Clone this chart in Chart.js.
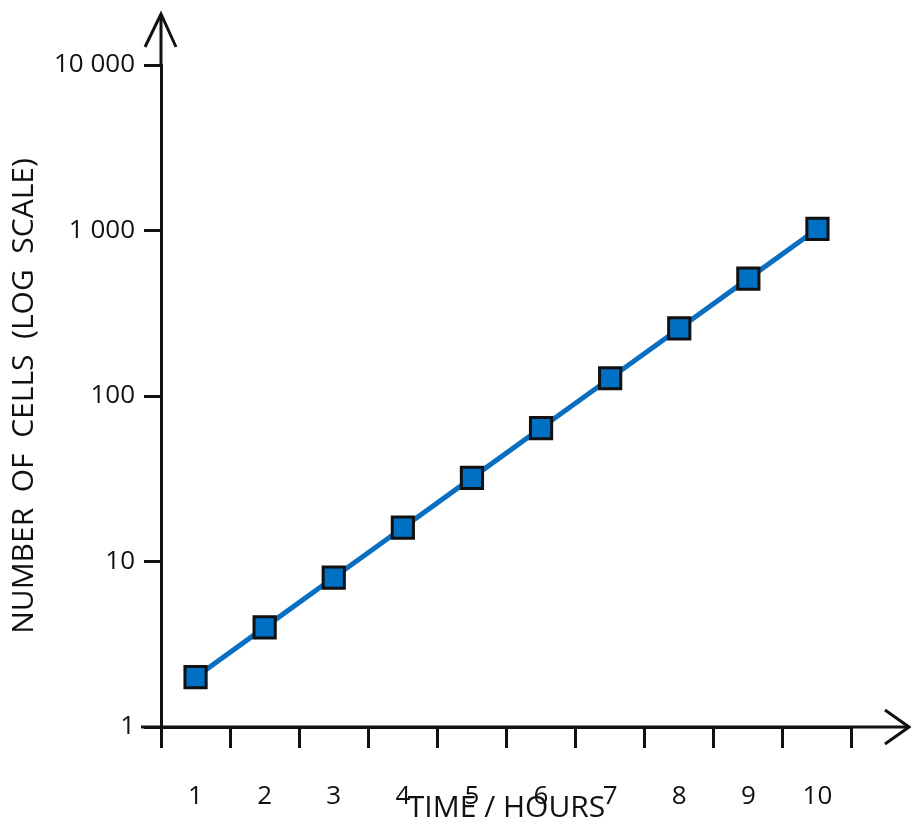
<!DOCTYPE html>
<html>
<head>
    <title>Cell growth</title>
    <script src="https://cdn.jsdelivr.net/npm/chart.js"></script>
    <style>
        html, body { margin: 0; padding: 0; background: #fff; }
        #wrap { width: 911px; height: 819px; }
    </style>
</head>
<body>
    <div id="wrap"><canvas id="myChart" width="911" height="819"></canvas></div>
    <script>
        // hours on the x axis
        var hours = ['1', '2', '3', '4', '5', '6', '7', '8', '9', '10'];
        // number of cells at each hour
        var cells = [2, 4, 8, 16, 32, 64, 128, 256, 512, 1024];
        // y tick values and their labels
        var yTickValues = [1, 10, 100, 1000, 10000];
        var yTickLabels = ['1', '10', '100', '1 000', '10 000'];

        var ink = '#111';
        var fontName = "'Open Sans', sans-serif";

        // arrows and axis overhangs
        var axisArrows = {
            id: 'axisArrows',
            afterDraw: function(chart) {
                var ctx = chart.ctx;
                var a = chart.chartArea;
                ctx.save();
                ctx.strokeStyle = ink;
                ctx.lineWidth = 3;
                ctx.lineCap = 'butt';
                // y axis up to arrow
                ctx.beginPath();
                ctx.moveTo(a.left, a.top);
                ctx.lineTo(a.left, 14);
                ctx.stroke();
                ctx.beginPath();
                ctx.moveTo(a.left - 16, 47);
                ctx.lineTo(a.left, 14);
                ctx.lineTo(a.left + 15, 47);
                ctx.stroke();
                // x axis, left overhang and arrow
                ctx.beginPath();
                ctx.moveTo(141, a.bottom);
                ctx.lineTo(909, a.bottom);
                ctx.stroke();
                ctx.beginPath();
                ctx.moveTo(885, a.bottom - 17);
                ctx.lineTo(909, a.bottom);
                ctx.lineTo(885, a.bottom + 17);
                ctx.stroke();
                ctx.restore();
            }
        };

        var ctx = document.getElementById('myChart').getContext('2d');
        var myChart = new Chart(ctx, {
            type: 'line',
            data: {
                labels: hours,
                datasets: [{
                    label: 'Number of cells',
                    data: cells,
                    borderColor: '#0b6fc1',
                    borderWidth: 5,
                    pointStyle: 'rect',
                    pointRadius: 15,
                    pointHoverRadius: 15,
                    pointBackgroundColor: '#0070c4',
                    pointBorderColor: ink,
                    pointBorderWidth: 3,
                    tension: 0
                }]
            },
            plugins: [axisArrows],
            options: {
                responsive: false,
                animation: false,
                layout: { padding: { top: 65, right: 59, left: 0, bottom: 0 } },
                plugins: {
                    legend: { display: false },
                    tooltip: { enabled: false }
                },
                scales: {
                    x: {
                        type: 'category',
                        offset: true,
                        border: { display: true, color: ink, width: 3 },
                        grid: {
                            offset: true,
                            drawOnChartArea: false,
                            drawTicks: true,
                            tickLength: 21,
                            tickWidth: 3,
                            tickColor: ink
                        },
                        ticks: {
                            color: ink,
                            padding: 33,
                            maxRotation: 0,
                            font: { family: fontName, size: 26 }
                        },
                        title: {
                            display: true,
                            text: 'TIME / HOURS',
                            color: ink,
                            padding: { top: 0, bottom: 0 },
                            font: { family: fontName, size: 30, lineHeight: 0.7 }
                        },
                        afterFit: function(scale) { scale.height = 92; }
                    },
                    y: {
                        type: 'logarithmic',
                        min: 1,
                        max: 10000,
                        border: { display: true, color: ink, width: 3 },
                        grid: {
                            drawOnChartArea: false,
                            drawTicks: true,
                            tickLength: 17,
                            tickWidth: 3,
                            tickColor: ink
                        },
                        afterBuildTicks: function(scale) {
                            scale.ticks = yTickValues.map(function(v) { return { value: v }; });
                        },
                        ticks: {
                            color: ink,
                            padding: 9,
                            font: { family: fontName, size: 26 },
                            callback: function(value) {
                                var i = yTickValues.indexOf(value);
                                return i >= 0 ? yTickLabels[i] : '';
                            }
                        },
                        title: {
                            display: true,
                            text: 'NUMBER  OF  CELLS  (LOG  SCALE)',
                            color: ink,
                            padding: { top: 6, bottom: 0 },
                            font: { family: fontName, size: 30 }
                        },
                        afterFit: function(scale) { scale.width = 161; }
                    }
                }
            }
        });
    </script>
</body>
</html>
